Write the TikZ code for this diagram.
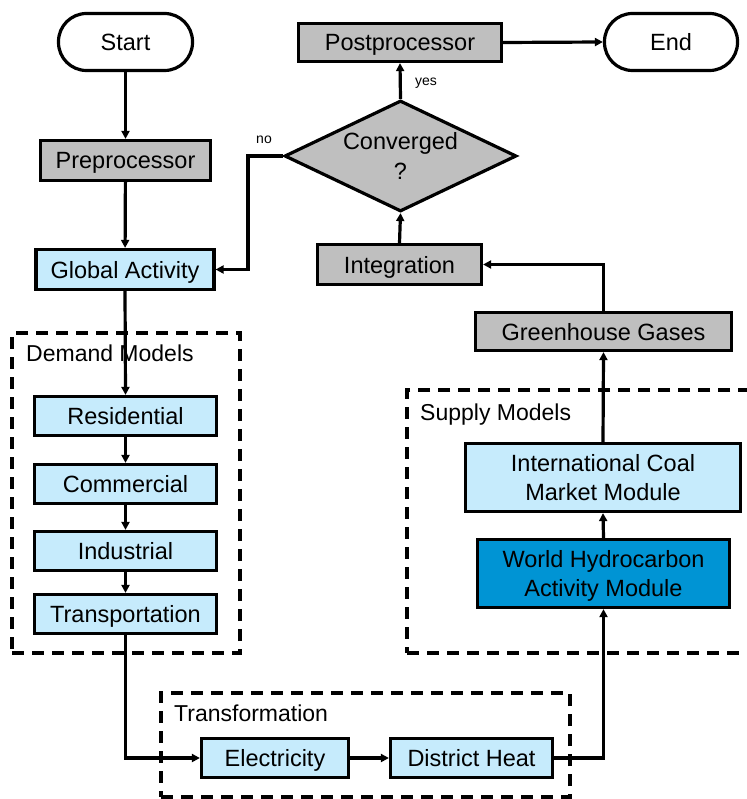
\documentclass[tikz,border=0pt]{standalone}
\usepackage{fontspec}
\setmainfont{Liberation Sans}
\usetikzlibrary{arrows.meta,shapes.geometric}
\definecolor{boxgray}{RGB}{191,191,191}
\definecolor{lightblue}{RGB}{198,235,252}
\definecolor{darkblue}{RGB}{0,148,212}
\begin{document}
\begin{tikzpicture}[x=1pt,y=-1pt,
  base/.style={draw=black,line width=3.2pt,inner sep=0pt,align=center,font=\fontsize{23.5}{29}\selectfont},
  one/.style={base,text height=17pt,text depth=0pt},
  two/.style={base,text height=46pt,text depth=0pt},
  graybox/.style={one,fill=boxgray},
  bluebox/.style={one,fill=lightblue},
  term/.style={one,fill=white,rounded corners=28pt},
  group/.style={draw=black,line width=3.2pt,dash pattern=on 12pt off 8pt},
  grouplabel/.style={anchor=west,inner sep=0pt,font=\fontsize{23}{27}\selectfont,text height=17pt,text depth=0pt},
  small/.style={inner sep=0pt,font=\fontsize{14}{16}\selectfont},
  arr/.style={line width=3.2pt,-{Triangle[length=8pt,width=8pt]}}
]
\useasboundingbox (0,0) rectangle (746,799);

% groups
\node[group,minimum width=228pt,minimum height=320pt,inner sep=0pt] (dg) at (126,493) {};
\node[group,minimum width=360pt,minimum height=263pt,inner sep=0pt] (sg) at (587,521.5) {};
\node[group,minimum width=409pt,minimum height=104pt,inner sep=0pt] (tg) at (365.5,745) {};
\node[grouplabel] (dgl) at (26,353) {Demand Models};
\node[grouplabel] (sgl) at (420,412) {Supply Models};
\node[grouplabel] (tgl) at (174,713) {Transformation};

% nodes
\node[term,minimum width=134pt,minimum height=57pt] (start) at (125.5,42) {Start};
\node[graybox,minimum width=170pt,minimum height=40pt] (pre) at (125.5,160.5) {Preprocessor};
\node[bluebox,minimum width=178pt,minimum height=40pt] (ga) at (125,269.5) {Global Activity};
\node[graybox,minimum width=203pt,minimum height=38pt] (post) at (400,42.5) {Postprocessor};
\node[term,minimum width=133pt,minimum height=57pt] (end) at (671,42) {End};
\node[draw=black,line width=3.2pt,fill=boxgray,diamond,aspect=2,inner sep=0pt,
      minimum width=232pt,minimum height=111pt,align=center,
      text height=47pt,text depth=0pt,
      font=\fontsize{23.5}{30}\selectfont] (conv) at (400.5,156) {Converged\\?};
\node[graybox,minimum width=164pt,minimum height=40pt] (integ) at (399.5,264.5) {Integration};
\node[graybox,minimum width=256pt,minimum height=38pt] (ghg) at (603.5,331.5) {Greenhouse Gases};
\node[two,fill=lightblue,minimum width=275pt,minimum height=68pt] (coal) at (603,477.5) {International Coal\\Market Module};
\node[two,fill=darkblue,minimum width=252pt,minimum height=68pt] (whm) at (603.5,573.5) {World Hydrocarbon\\Activity Module};

\node[bluebox,minimum width=182pt,minimum height=39pt] (res) at (125.5,416) {Residential};
\node[bluebox,minimum width=182pt,minimum height=39pt] (com) at (125.5,484) {Commercial};
\node[bluebox,minimum width=182pt,minimum height=39pt] (ind) at (125.5,551) {Industrial};
\node[bluebox,minimum width=182pt,minimum height=39pt] (tra) at (125.5,614) {Transportation};
\node[bluebox,minimum width=147pt,minimum height=39pt] (elec) at (275,758) {Electricity};
\node[bluebox,minimum width=162pt,minimum height=39pt] (dh) at (471.5,758) {District Heat};

% labels
\node[small] (nolab) at (264,140) {no};
\node[small] (yeslab) at (426,83) {yes};

% connectors
\draw[arr] (start) -- (pre);
\draw[arr] (pre) -- (ga);
\draw[arr] (conv.west) -- ++(-35,0) |- (ga.east);
\draw[arr] (conv.north) -- (post.south);
\draw[arr] (post.east) -- (end.west);
\draw[arr] (integ.north) -- (conv.south);
\draw[arr] (ghg.north) |- (integ.east);
\draw[arr] (coal.north) -- (ghg.south);
\draw[arr] (whm.north) -- (coal.south);
\draw[arr] (dh.east) -| (whm.south);
\draw[arr] (ga.south) -- (res.north);
\draw[arr] (res) -- (com);
\draw[arr] (com) -- (ind);
\draw[arr] (ind) -- (tra);
\draw[arr] (tra.south) |- (elec.west);
\draw[arr] (elec) -- (dh);
\end{tikzpicture}
\end{document}
